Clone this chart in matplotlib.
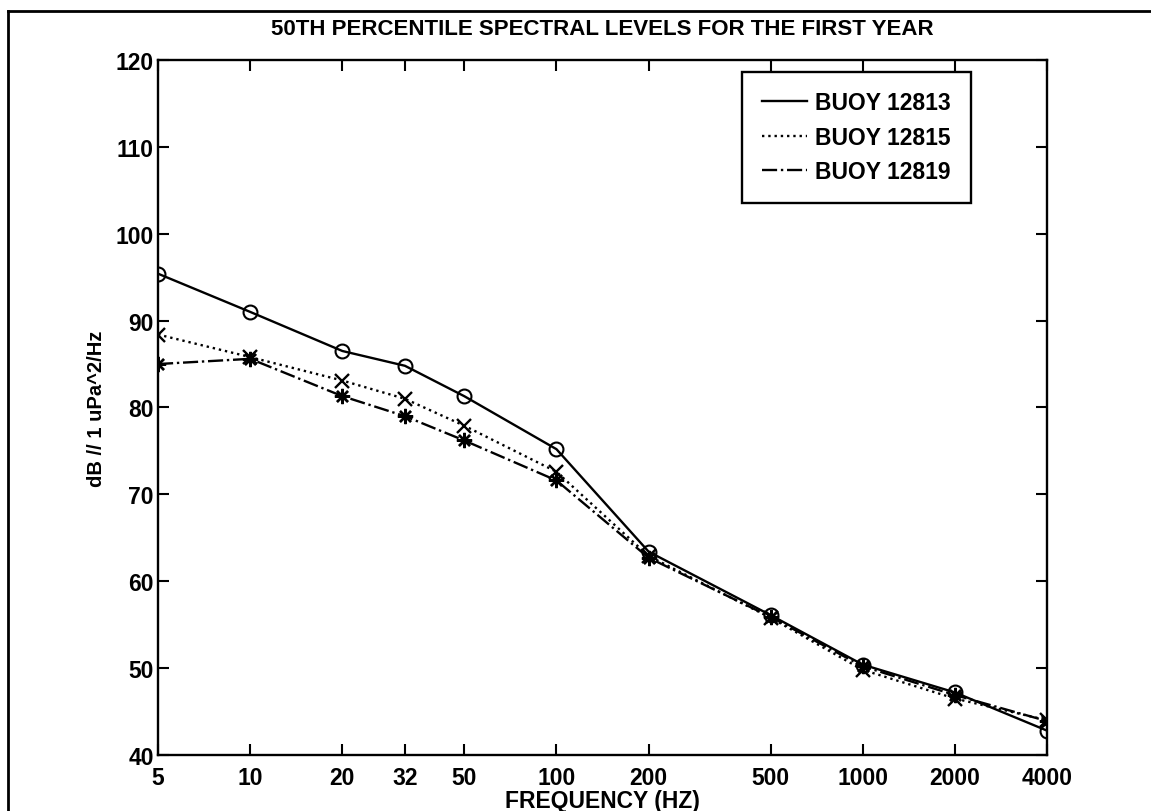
import numpy as np
import matplotlib.pyplot as plt
from matplotlib.lines import Line2D

# Median (50th percentile) spectral levels, first year of deployment
freqs = [5, 10, 20, 32, 50, 100, 200, 500, 1000, 2000, 4000]
freq_labels = ['5', '10', '20', '32', '50', '100', '200', '500', '1000', '2000', '4000']
buoy_12813 = [95.4, 91.0, 86.5, 84.8, 81.3, 75.2, 63.4, 56.1, 50.4, 47.2, 42.8]
buoy_12815 = [88.4, 85.8, 83.1, 81.0, 77.9, 72.6, 62.9, 55.8, 49.8, 46.5, 44.0]
buoy_12819 = [85.0, 85.6, 81.3, 79.0, 76.2, 71.6, 62.7, 55.9, 50.2, 46.9, 43.9]

plt.rcParams['font.family'] = ['Liberation Sans', 'DejaVu Sans']
plt.rcParams['font.weight'] = 'bold'
fs = 16.5

fig = plt.figure(figsize=(11.51, 8.12), dpi=100)
ax = fig.add_axes([0.1373, 0.069, 0.9097 - 0.1373, 0.9249 - 0.069])

lw = 1.7
ax.plot(freqs, buoy_12813, '-', color='black', lw=lw, marker='o', ms=10,
        mfc='none', mew=1.5)
ax.plot(freqs, buoy_12815, ':', color='black', lw=lw, marker='x', ms=10, mew=1.7)
ax.plot(freqs, buoy_12819, '-.', color='black', lw=lw, marker=(8, 2, 0), ms=11,
        mew=1.7)

ax.set_xscale('log')
ax.set_xlim(5, 4000)
ax.set_ylim(40, 120)
ax.set_xticks(freqs)
ax.set_xticklabels(freq_labels)
ax.xaxis.set_minor_locator(plt.NullLocator())
ax.set_yticks(np.arange(40, 121, 10))

ax.tick_params(direction='in', top=True, right=True, length=8, width=1.5,
               labelsize=fs)
ax.tick_params(axis='x', pad=8)
ax.tick_params(axis='y', pad=3)
for s in ax.spines.values():
    s.set_linewidth(1.7)

ax.set_title('50TH PERCENTILE SPECTRAL LEVELS FOR THE FIRST YEAR',
             fontsize=16, fontweight='bold', pad=19)
ax.set_xlabel('FREQUENCY (HZ)', fontsize=fs, fontweight='bold', labelpad=0)
ax.set_ylabel('dB // 1 uPa^2/Hz', fontsize=14.5, fontweight='bold', labelpad=7)

handles = [
    Line2D([], [], color='black', ls='-', lw=lw),
    Line2D([], [], color='black', ls=':', lw=lw),
    Line2D([], [], color='black', ls='-.', lw=lw),
]
leg = ax.legend(handles, ['BUOY 12813', 'BUOY 12815', 'BUOY 12819'],
                loc='upper left', bbox_to_anchor=((742 - 158) / 889, (756 - 73) / 695),
                fancybox=False, framealpha=1, edgecolor='black',
                handlelength=2.0, handletextpad=0.35, labelspacing=0.5,
                borderpad=0.85, borderaxespad=0, fontsize=fs)
leg.get_frame().set_linewidth(1.7)

# page frame around the figure
fig.add_artist(Line2D([8 / 1151, 1], [1 - 12 / 812, 1 - 12 / 812],
                      color='black', lw=2, transform=fig.transFigure))
fig.add_artist(Line2D([8 / 1151, 8 / 1151], [0, 1 - 12 / 812],
                      color='black', lw=2, transform=fig.transFigure))

fig.savefig('out.png', dpi=100)
